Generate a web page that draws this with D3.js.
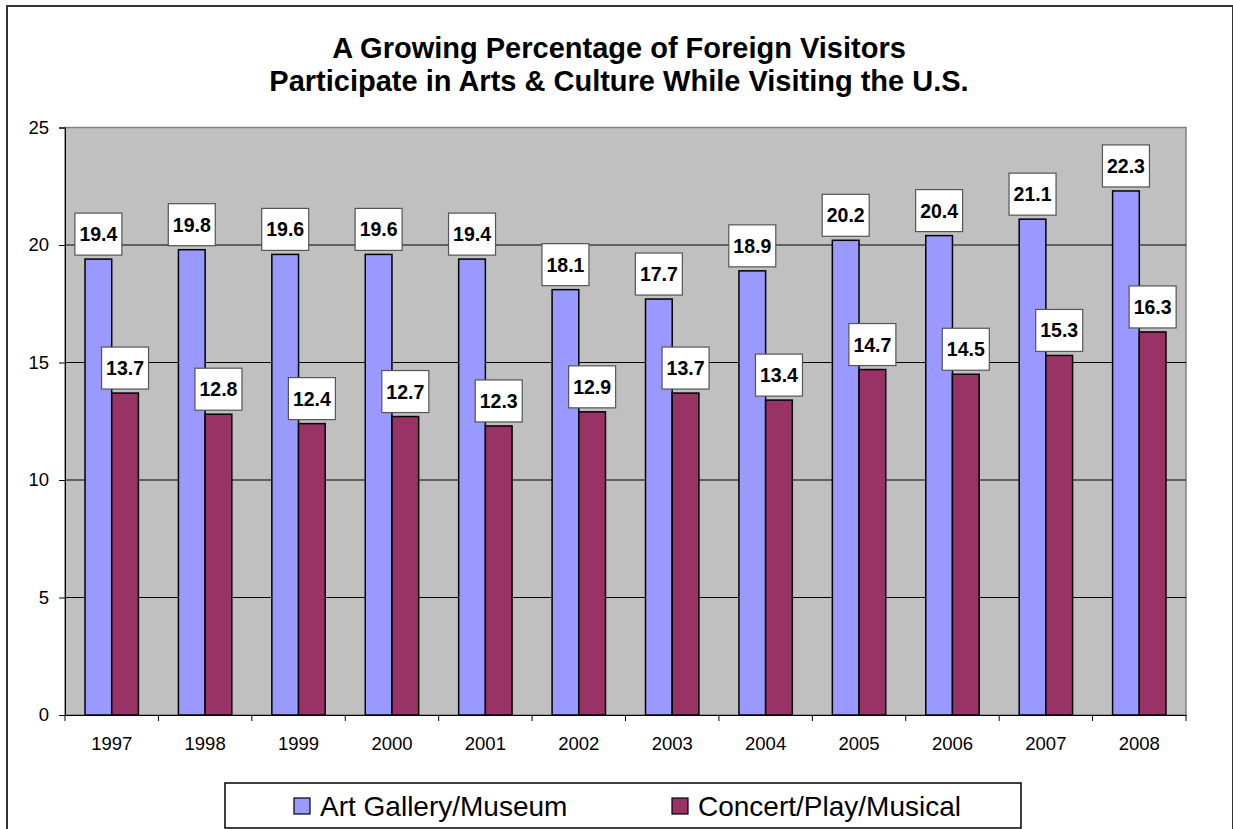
<!DOCTYPE html>
<html>
<head>
<meta charset="utf-8">
<script src="https://cdn.jsdelivr.net/npm/d3@7"></script>
<style>
  html, body { margin: 0; padding: 0; background: #fff; }
  svg { display: block; font-family: Arial, "Liberation Sans", sans-serif; }
</style>
</head>
<body>
<svg id="chart" width="1233" height="829"></svg>
<script>
const years = ["1997","1998","1999","2000","2001","2002","2003","2004","2005","2006","2007","2008"];
const artGallery = [19.4,19.8,19.6,19.6,19.4,18.1,17.7,18.9,20.2,20.4,21.1,22.3];
const concert = [13.7,12.8,12.4,12.7,12.3,12.9,13.7,13.4,14.7,14.5,15.3,16.3];
const seriesNames = ["Art Gallery/Museum", "Concert/Play/Musical"];
const seriesColors = ["#9999ff", "#993366"];
const yTicks = [0,5,10,15,20,25];
const titleLines = ["A Growing Percentage of Foreign Visitors", "Participate in Arts & Culture While Visiting the U.S."];

const svg = d3.select("#chart");
const plot = {left: 65, right: 1186, top: 127.5, bottom: 715};

// outer frame
svg.append("rect").attr("x", 7).attr("y", 6).attr("width", 1226).attr("height", 840)
  .attr("fill", "#fff").attr("stroke", "#333").attr("stroke-width", 2);

// title
svg.append("g").selectAll("text").data(titleLines).join("text")
  .attr("x", 619).attr("y", (d,i) => 58 + i*33)
  .attr("text-anchor", "middle").attr("font-weight", "bold").attr("font-size", 29)
  .attr("fill", "#000").text(d => d);

const x = d3.scaleBand().domain(years).range([plot.left, plot.right]).paddingInner(0).paddingOuter(0);
const xs = d3.scaleBand().domain([0,1]).range([0, x.bandwidth()]).paddingInner(0).paddingOuter(0.75);
const y = d3.scaleLinear().domain([0,25]).range([plot.bottom, plot.top]);

// plot background
svg.append("rect").attr("x", plot.left).attr("y", plot.top)
  .attr("width", plot.right - plot.left).attr("height", plot.bottom - plot.top)
  .attr("fill", "#c0c0c0").attr("stroke", "#808080").attr("stroke-width", 1.5);

// gridlines
svg.append("g").selectAll("line").data(yTicks.filter(t => t > 0 && t < 25)).join("line")
  .attr("x1", plot.left).attr("x2", plot.right)
  .attr("y1", d => y(d)).attr("y2", d => y(d))
  .attr("stroke", "#000").attr("stroke-width", 1);

// y axis
const yAxis = d3.axisLeft(y).tickValues(yTicks).tickSize(6).tickPadding(10).tickFormat(d3.format("d"));
const gy = svg.append("g").attr("transform", `translate(${plot.left},0)`).call(yAxis);
gy.select(".domain").attr("stroke", "#000").attr("stroke-width", 1);
gy.selectAll(".tick line").attr("stroke", "#000");
gy.selectAll(".tick text").attr("font-size", 18.5).attr("font-family", "Arial, 'Liberation Sans', sans-serif").attr("fill", "#000");

// x axis
const gx = svg.append("g").attr("transform", `translate(0,${plot.bottom})`)
  .call(d3.axisBottom(x).tickSize(0).tickPadding(22));
gx.select(".domain").attr("stroke", "#000").attr("stroke-width", 1);
gx.selectAll(".tick text").attr("font-size", 18.5).attr("font-family", "Arial, 'Liberation Sans', sans-serif").attr("fill", "#000");
// tick marks at category boundaries
const bounds = years.map(d => x(d)).concat([plot.right]);
svg.append("g").selectAll("line").data(bounds).join("line")
  .attr("x1", d => d).attr("x2", d => d)
  .attr("y1", plot.bottom).attr("y2", plot.bottom + 6)
  .attr("stroke", "#000");

// bars
const seriesData = [artGallery, concert];
seriesData.forEach((vals, si) => {
  const g = svg.append("g");
  g.selectAll("rect").data(vals).join("rect")
    .attr("x", (d,i) => x(years[i]) + xs(si))
    .attr("y", d => y(d))
    .attr("width", xs.bandwidth())
    .attr("height", d => y(0) - y(d))
    .attr("fill", seriesColors[si])
    .attr("stroke", "#000").attr("stroke-width", 1.5);
});

// data labels
const boxW = 47, boxH = 42, gap = 4;
seriesData.forEach((vals, si) => {
  const g = svg.append("g");
  const lab = g.selectAll("g").data(vals).join("g")
    .attr("transform", (d,i) => `translate(${x(years[i]) + xs(si) + xs.bandwidth()/2},${y(d) - gap - boxH/2})`);
  lab.append("rect").attr("x", -boxW/2).attr("y", -boxH/2).attr("width", boxW).attr("height", boxH)
    .attr("fill", "#fff").attr("stroke", "#555").attr("stroke-width", 1.2);
  lab.append("text").attr("text-anchor", "middle").attr("dy", "0.36em")
    .attr("font-weight", "bold").attr("font-size", 19.5).attr("fill", "#000")
    .text(d => d3.format(".1f")(d));
});

// legend
const lg = svg.append("g");
lg.append("rect").attr("x", 225).attr("y", 783).attr("width", 796).attr("height", 45)
  .attr("fill", "#fff").attr("stroke", "#000").attr("stroke-width", 1.5);
const legendX = [294, 672];
seriesNames.forEach((name, i) => {
  lg.append("rect").attr("x", legendX[i]).attr("y", 798).attr("width", 16).attr("height", 16)
    .attr("fill", seriesColors[i]).attr("stroke", "#000").attr("stroke-width", 1.2);
  lg.append("text").attr("x", legendX[i] + 26).attr("y", 816)
    .attr("font-size", 28).attr("fill", "#000").text(name);
});
</script>
</body>
</html>
